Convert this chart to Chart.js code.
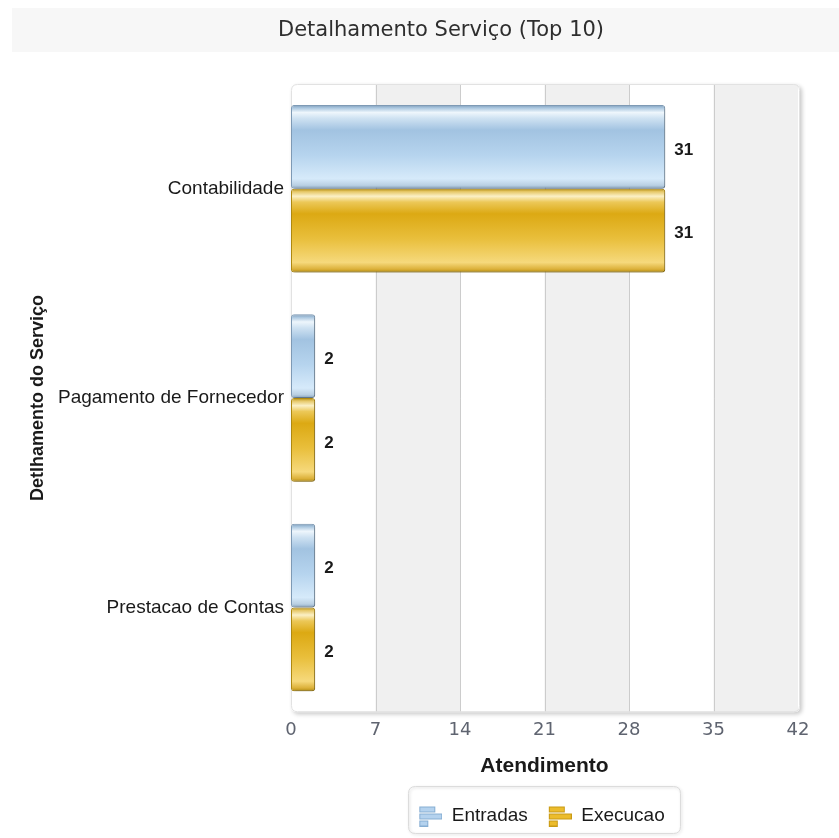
<!DOCTYPE html>
<html><head><meta charset="utf-8">
<script src="https://cdn.jsdelivr.net/npm/chart.js@4/dist/chart.umd.min.js"></script>
<style>html,body{margin:0;padding:0;background:#fff}canvas{display:block}</style>
</head><body>
<canvas id="c" width="839" height="838"></canvas>
<script>
const categories = ['Contabilidade', 'Pagamento de Fornecedor', 'Prestacao de Contas'];
const entradas = [31, 2, 2];
const execucao = [31, 2, 2];
const seriesNames = ['Entradas', 'Execucao'];
const xTicks = [0, 7, 14, 21, 28, 35, 42];
const chartTitle = 'Detalhamento Serviço (Top 10)';
const xTitle = 'Atendimento';
const yTitle = 'Detlhamento do Serviço';

const blueStops = [[0,'#7d9bb8'],[0.035,'#a9c6df'],[0.09,'#eef6fc'],[0.16,'#cfe2f2'],[0.3,'#a2c3e1'],[0.6,'#b6d4ee'],[0.88,'#d6eafa'],[0.96,'#b9cfe2'],[1,'#7f9cb7']];
const goldStops = [[0,'#b18a0c'],[0.035,'#e6c868'],[0.09,'#fbf0c6'],[0.16,'#ecc858'],[0.3,'#dca913'],[0.6,'#e9bf3c'],[0.88,'#f6d97c'],[0.96,'#dcb13a'],[1,'#b08a10']];

function makeIcon(fill, stroke) {
  const cv = document.createElement('canvas');
  cv.width = 24; cv.height = 22;
  const x = cv.getContext('2d');
  x.fillStyle = fill; x.strokeStyle = stroke; x.lineWidth = 1;
  const bars = [[1.5, 2.5, 15, 5], [1.5, 9.5, 22, 5], [1.5, 16.5, 8, 5]];
  bars.forEach(b => { x.fillRect(b[0], b[1], b[2], b[3]); x.strokeRect(b[0], b[1], b[2], b[3]); });
  return cv;
}
const icons = [makeIcon('#b4d2ee', '#86aed3'), makeIcon('#ecbc2c', '#c99a14')];

function barGradient(stops, solid) {
  return (c) => {
    const chart = c.chart; const ys = chart.scales.y;
    if (!ys || ys.top === undefined || c.dataIndex === undefined || !isFinite(ys.bottom)) return solid;
    const cat = (ys.bottom - ys.top) / categories.length;
    const center = ys.getPixelForValue(c.dataIndex);
    const bw = cat * 0.8 / 2;
    const top = center - cat * 0.4 + c.datasetIndex * bw;
    const g = chart.ctx.createLinearGradient(0, top, 0, top + bw);
    stops.forEach(s => g.addColorStop(s[0], s[1]));
    return g;
  };
}

function rr(ctx, x, y, w, h, r) {
  ctx.beginPath();
  ctx.moveTo(x + r, y);
  ctx.lineTo(x + w - r, y); ctx.quadraticCurveTo(x + w, y, x + w, y + r);
  ctx.lineTo(x + w, y + h - r); ctx.quadraticCurveTo(x + w, y + h, x + w - r, y + h);
  ctx.lineTo(x + r, y + h); ctx.quadraticCurveTo(x, y + h, x, y + h - r);
  ctx.lineTo(x, y + r); ctx.quadraticCurveTo(x, y, x + r, y);
  ctx.closePath();
}

const decor = {
  id: 'decor',
  afterUpdate(chart) {
    const lg = chart.legend; const a = chart.chartArea;
    if (lg && a) {
      lg.left = a.left - 3; lg.right = a.right - 3; lg.width = lg.right - lg.left;
      lg.adjustHitBoxes();
    }
  },
  beforeDraw(chart) {
    const ctx = chart.ctx; const a = chart.chartArea; const xs = chart.scales.x;
    ctx.save();
    ctx.fillStyle = '#fff'; ctx.fillRect(0, 0, chart.width, chart.height);
    ctx.fillStyle = '#f7f7f7'; ctx.fillRect(12, 8, chart.width - 12, 44);
    ctx.fillStyle = '#2e2e2e';
    ctx.font = '21px "DejaVu Sans", Verdana, sans-serif';
    ctx.textAlign = 'center'; ctx.textBaseline = 'middle';
    ctx.fillText(chartTitle, 441, 31);
    // plot background with shadow
    const L = a.left, T = a.top, W = a.right + 2 - a.left, H = a.bottom - a.top;
    ctx.save();
    ctx.shadowColor = 'rgba(0,0,0,0.22)'; ctx.shadowBlur = 4; ctx.shadowOffsetX = 2; ctx.shadowOffsetY = 2;
    rr(ctx, L, T, W, H, 6); ctx.fillStyle = '#fff'; ctx.fill();
    ctx.restore();
    ctx.save();
    rr(ctx, L, T, W, H, 6); ctx.clip();
    ctx.fillStyle = '#f0f0f0';
    for (let i = 1; i < xTicks.length; i += 2) {
      const x0 = xs.getPixelForValue(xTicks[i]);
      const x1 = i + 1 < xTicks.length ? xs.getPixelForValue(xTicks[i + 1]) : a.right + 4;
      ctx.fillRect(x0, T, x1 - x0, H);
    }
    ctx.strokeStyle = '#cccccc'; ctx.lineWidth = 1;
    for (let i = 1; i < xTicks.length - 1; i++) {
      const x = Math.round(xs.getPixelForValue(xTicks[i])) + 0.5;
      ctx.beginPath(); ctx.moveTo(x, T); ctx.lineTo(x, a.bottom); ctx.stroke();
    }
    ctx.restore();
    rr(ctx, L + 0.5, T + 0.5, W - 1, H - 1, 6); ctx.strokeStyle = '#e2e2e2'; ctx.stroke();
    ctx.restore();
  },
  beforeDatasetsDraw(chart) {
    const ctx = chart.ctx; ctx.save();
    ctx.shadowColor = 'rgba(0,0,0,0.28)'; ctx.shadowBlur = 3; ctx.shadowOffsetX = 2; ctx.shadowOffsetY = 2;
  },
  afterDatasetsDraw(chart) {
    const ctx = chart.ctx; ctx.restore();
    ctx.save();
    ctx.font = 'bold 17px "Liberation Sans", Arial, sans-serif';
    ctx.fillStyle = '#1a1a1a'; ctx.textBaseline = 'middle'; ctx.textAlign = 'left';
    chart.data.datasets.forEach((ds, di) => {
      chart.getDatasetMeta(di).data.forEach((el, i) => {
        ctx.fillText(String(ds.data[i]), el.x + 9, el.y + 3);
      });
    });
    ctx.restore();
  },
  afterDraw(chart) {
    const lg = chart.legend; if (!lg) return;
    const w = (lg.lineWidths && lg.lineWidths[0]) || 250;
    const cx = (lg.left + lg.right) / 2;
    const cy = lg.top + lg.height / 2;
    const ctx = chart.ctx; ctx.save();
    ctx.shadowColor = 'rgba(0,0,0,0.18)'; ctx.shadowBlur = 3; ctx.shadowOffsetX = 1; ctx.shadowOffsetY = 1;
    rr(ctx, Math.round(cx - w / 2) + 0.5, Math.round(cy - 25) + 0.5, Math.round(w + 6), 47, 7);
    ctx.strokeStyle = '#dcdcdc'; ctx.lineWidth = 1; ctx.stroke();
    ctx.restore();
  }
};

new Chart(document.getElementById('c'), {
  type: 'bar',
  data: {
    labels: categories,
    datasets: [
      { label: seriesNames[0], data: entradas, backgroundColor: barGradient(blueStops, '#a8c8e6'), borderColor: '#7f9cb7', borderWidth: 1, borderRadius: 3, borderSkipped: false, categoryPercentage: 0.8, barPercentage: 1.0 },
      { label: seriesNames[1], data: execucao, backgroundColor: barGradient(goldStops, '#e0ae1c'), borderColor: '#b08a10', borderWidth: 1, borderRadius: 3, borderSkipped: false, categoryPercentage: 0.8, barPercentage: 1.0 }
    ]
  },
  options: {
    indexAxis: 'y',
    responsive: false,
    animation: false,
    layout: { padding: { left: 12, right: 41, top: 84, bottom: 3 } },
    scales: {
      x: {
        min: 0, max: 42,
        afterBuildTicks: (s) => { s.ticks = xTicks.map(v => ({ value: v })); },
        grid: { display: false, drawTicks: false },
        border: { display: false },
        ticks: { color: '#5f6470', font: { family: '"DejaVu Sans", Verdana, sans-serif', size: 18 }, padding: 7 },
        title: { display: true, text: xTitle, color: '#1a1a1a', font: { family: '"Liberation Sans", Arial, sans-serif', size: 21, weight: 'bold' }, padding: { top: 6, bottom: 7 } }
      },
      y: {
        afterFit: (s) => { s.width = 279; },
        grid: { display: false, drawTicks: false },
        border: { display: false },
        ticks: { color: '#1a1a1a', font: { family: '"Liberation Sans", Arial, sans-serif', size: 19 }, padding: 7 },
        title: { display: true, text: yTitle, color: '#1a1a1a', font: { family: '"Liberation Sans", Arial, sans-serif', size: 18, weight: 'bold' }, padding: { top: 15, bottom: 4 } }
      }
    },
    plugins: {
      title: { display: false },
      legend: {
        position: 'bottom',
        labels: {
          usePointStyle: true, pointStyleWidth: 24, padding: 20,
          color: '#1a1a1a', font: { family: '"Liberation Sans", Arial, sans-serif', size: 19 },
          generateLabels: (chart) => chart.data.datasets.map((ds, i) => ({ text: ds.label, pointStyle: icons[i], fillStyle: 'transparent', strokeStyle: 'transparent', lineWidth: 0, hidden: false, datasetIndex: i, fontColor: '#1a1a1a' }))
        }
      },
      tooltip: { enabled: false }
    }
  },
  plugins: [decor]
});
</script>
</body></html>
